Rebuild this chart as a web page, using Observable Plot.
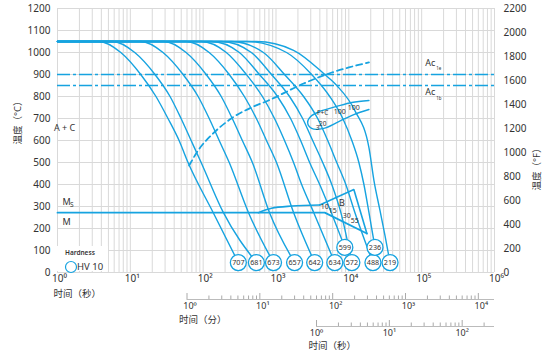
<!DOCTYPE html>
<html><head><meta charset="utf-8">
<script src="https://cdn.jsdelivr.net/npm/d3@7"></script>
<script src="https://cdn.jsdelivr.net/npm/@observablehq/plot@0.6"></script>
<style>
body{margin:0;background:#fff;}
#wrap{position:relative;width:554px;height:364px;font-family:'Noto Sans','Noto Sans CJK SC',sans-serif;}
#legend{position:absolute;left:55px;top:246px;width:53px;height:25px;background:#fff;}
#legend .lh{position:absolute;left:10px;top:2px;font-size:6.5px;font-weight:600;color:#333;}
#legend svg{position:absolute;left:9px;top:14px;}
#legend .hv{position:absolute;left:22px;top:14px;font-size:9.5px;color:#333;line-height:13px;}
</style></head><body><div id="wrap"></div>
<script>
const blue = "#16a3e0", grid = "#d9d9d9", ink = "#333";

// hardness circles (HV 10): time (s), temperature (°C)
const hardness    = [707, 681, 673, 657, 642, 634, 599, 572, 488, 236, 219];
const circleTimes = [304, 538, 924, 1799, 3396, 6412, 8810, 11000, 21430, 22850, 36800];
const circleTemps = [45, 45, 45, 45, 45, 45, 114, 45, 45, 114, 45];

// cooling curves [time s, °C]
const c707 = [[1,1050],[3.7,1050],[7.4,1000],[13.9,900],[22.5,800],[32.9,700],[46.7,600],[62,500],[137,273]];
const c681 = [[1,1050],[5.7,1050],[11.5,1000],[21.8,900],[35.1,800],[49.7,700],[68.3,600],[93.8,500],[189,273]];
const c673 = [[1,1050],[13.9,1050],[28.1,1000],[53,900],[85.3,800],[121,700],[166,600],[228,500],[418,273]];
const c657 = [[1,1050],[29,1050],[58.3,1000],[110,900],[177,800],[251,700],[345,600],[474,500],[813,273]];
const c642 = [[1,1050],[58.3,1050],[121,1000],[228,900],[368,800],[538,700],[740,600],[1016,500],[1742,273]];
const c634 = [[1,1050],[93.8,1050],[208,1000],[392,900],[651,800],[954,700],[1309,600],[1742,500],[2249,400],[3290,273]];
const c599 = [[1,1050],[129,1050],[314,1000],[592,900],[1049,800],[1585,700],[2178,600],[2897,500],[3981,400]];
const c572 = [[1,1050],[177,1050],[459,1000],[867,900],[1535,800],[2321,700],[3187,600],[4376,500],[5832,400],[7762,273]];
const c488 = [[1,1050],[243,1050],[672,1000],[1309,900],[2394,800],[3734,700],[5131,600],[6825,500],[9095,400],[12100,273]];
const c236 = [[1,1050],[392,1050],[1396,1000],[3088,900],[5470,800],[8262,700],[11000,600],[13740,500],[16110,400],[18880,273]];
const c219 = [[1,1050],[538,1050],[1742,1010],[4667,900],[6825,850],[12100,736],[18880,568],[22130,418],[26770,282],[31380,168]];
const curves = [c707, c681, c673, c657, c642, c634, c599, c572, c488, c236, c219];

// transformation lines
const ferriteStart = [[64.1,486],[85.3,555],[137,632],[243,700],[459,750],[788,782],[2394,859],[5832,909],[10000,932],[18880,955]];
const fcLoop = [[18880,782],[11000,773],[6825,755],[3981,732],[2992,709],[2718,682],[3088,655],[4519,655],[7278,686],[11720,718],[18880,741]];
const mLine = [[1,272],[4667,272],[17700,177]];
const bStart = [[574,272],[867,292],[1636,302],[3981,307]];
const bTop = [[3981,307],[11720,377],[17700,177]];
const acTemps = [900, 850];

// annotations
const annoText  = ["A + C", "B", "10", "15", "30", "55", "F+C", "3", "20", "100", "100"];
const annoTimes = [1.25, 8000, 4667, 6017, 9380, 12100, 4376, 3734, 4376, 7513, 11720];
const annoTemps = [655, 314, 300, 282, 259, 236, 724, 658, 676, 732, 747];
const annoSizes = [9, 9.5, 7, 7, 7, 7, 6.5, 6.5, 6.5, 7, 7];

// ticks
const yTicksC = [0,100,200,300,400,500,600,700,800,900,1000,1100,1200];
const yTicksF = [0,200,400,600,800,1000,1200,1400,1600,1800,2000,2200];
const xMajor = [1,10,100,1000,10000,100000,1000000];
const xLabels = ["10⁰","10¹","10²","10³","10⁴","10⁵","10⁶"];
const minMajor = [1,10,100,1000,10000];
const minLabels = ["10⁰","10¹","10²","10³","10⁴"];
const hourMajor = [1,10,100];
const hourLabels = ["10⁰","10¹","10²"];
const mults = [2,3,4,5,6,7,8,9];

const xGrid = xMajor.flatMap(d => d === 1e6 ? [d] : [d, ...mults.map(m => d*m)]);
const minMinor = minMajor.flatMap(d => mults.map(m => d*m)).filter(v => v*60 <= 1e6);
const hourMinor = hourMajor.flatMap(d => mults.map(m => d*m)).filter(v => v*3600 <= 1e6);

const curveRows = curves.flatMap((c, i) =>
  [...c, [circleTimes[i], circleTemps[i]]].map(([t, T]) => ({id: hardness[i], t, T})));
const circleRows = hardness.map((h, i) => ({h, t: circleTimes[i], T: circleTemps[i]}));
const annoRows = annoText.map((s, i) => ({s, t: annoTimes[i], T: annoTemps[i], z: annoSizes[i]}));
const P = d => ({t: d[0], T: d[1]});

const frameH = 264;
const plot = Plot.plot({
  width: 554, height: 364,
  marginLeft: 57, marginRight: 60, marginTop: 8, marginBottom: 92,
  x: {type: "log", domain: [1, 1e6], axis: null},
  y: {domain: [0, 1200], axis: null},
  style: {fontFamily: "'Noto Sans','Noto Sans CJK SC',sans-serif", background: "#fff"},
  marks: [
    Plot.ruleX(xGrid, {stroke: grid, strokeWidth: 1}),
    Plot.ruleY(yTicksC, {stroke: grid, strokeWidth: 1}),
    Plot.ruleY(acTemps, {stroke: blue, strokeWidth: 1.7, strokeDasharray: "13,3,3,3"}),
    Plot.line(curveRows, {x: "t", y: "T", z: "id", stroke: blue, strokeWidth: 1.4, curve: "monotone-x"}),
    Plot.line(ferriteStart.map(P), {x: "t", y: "T", stroke: blue, strokeWidth: 1.8, strokeDasharray: "6,4", curve: "monotone-x"}),
    Plot.line(fcLoop.map(P), {x: "t", y: "T", stroke: blue, strokeWidth: 1.4, curve: "catmull-rom"}),
    Plot.line(mLine.map(P), {x: "t", y: "T", stroke: blue, strokeWidth: 1.8}),
    Plot.line(bStart.map(P), {x: "t", y: "T", stroke: blue, strokeWidth: 1.6, curve: "monotone-x"}),
    Plot.line(bTop.map(P), {x: "t", y: "T", stroke: blue, strokeWidth: 1.6}),
    Plot.dot(circleRows, {x: "t", y: "T", r: 8, fill: "white", stroke: blue, strokeWidth: 1.3}),
    Plot.text(circleRows, {x: "t", y: "T", text: d => String(d.h), fontSize: 7.2, fill: ink}),
    Plot.text(annoRows, {x: "t", y: "T", text: "s", fontSize: d => d.z, fill: ink}),
    // Ms / M labels
    Plot.text(["M"], {x: () => 1, y: () => 318, dx: 5, textAnchor: "start", fontSize: 9, fill: ink}),
    Plot.text(["S"], {x: () => 1, y: () => 305, dx: 12.5, textAnchor: "start", fontSize: 6.5, fill: ink}),
    Plot.text(["M"], {x: () => 1, y: () => 227, dx: 5, textAnchor: "start", fontSize: 9, fill: ink}),
    // Ac labels
    Plot.text(["Ac"], {x: () => 111700, y: () => 950, textAnchor: "start", fontSize: 9, fill: ink}),
    Plot.text(["1e"], {x: () => 111700, y: () => 925, dx: 11, textAnchor: "start", fontSize: 4.5, fill: ink}),
    Plot.text(["Ac"], {x: () => 111700, y: () => 818, textAnchor: "start", fontSize: 9, fill: ink}),
    Plot.text(["1b"], {x: () => 111700, y: () => 792, dx: 11, textAnchor: "start", fontSize: 4.5, fill: ink}),
    // left / right y tick labels
    Plot.text(yTicksC, {y: d => d, frameAnchor: "left", textAnchor: "end", dx: -7, text: d => String(d), fontSize: 10, fill: ink}),
    Plot.text(yTicksF, {y: d => d * 1200 / 2200, frameAnchor: "right", textAnchor: "start", dx: 9, text: d => String(d), fontSize: 10, fill: ink}),
    Plot.text(["温度（°C）"], {frameAnchor: "left", rotate: -90, dx: -40, dy: 4, fontSize: 9.5, fill: ink}),
    Plot.text(["温度（°F）"], {frameAnchor: "right", rotate: -90, dx: 42, dy: 3, fontSize: 9.5, fill: ink}),
    // main time axis
    Plot.text(xMajor, {x: d => d, frameAnchor: "bottom", dy: 9, dx: 2, text: (d, i) => xLabels[i], fontSize: 10, fill: ink}),
    Plot.text(["时间（秒）"], {frameAnchor: "bottom-left", textAnchor: "start", dx: -4, dy: 24, fontSize: 9.5, fill: ink}),
    // minutes axis
    Plot.ruleY([0], {x1: 60, x2: 1e6, dy: 27, stroke: "#bbb"}),
    Plot.ruleX(minMajor.map(m => m * 60), {insetTop: frameH - 6, dy: 27, stroke: "#aaa"}),
    Plot.ruleX(minMinor.map(m => m * 60), {insetTop: frameH - 3.5, dy: 27, stroke: "#aaa"}),
    Plot.text(minMajor, {x: d => d * 60, frameAnchor: "bottom", dy: 36, dx: 3, text: (d, i) => minLabels[i], fontSize: 9, fill: ink}),
    Plot.text(["时间（分）"], {x: () => 60, frameAnchor: "bottom", textAnchor: "start", dx: -8, dy: 50, fontSize: 9.5, fill: ink}),
    // hours axis
    Plot.ruleY([0], {x1: 3600, x2: 1e6, dy: 54, stroke: "#bbb"}),
    Plot.ruleX(hourMajor.map(h => h * 3600), {insetTop: frameH - 6, dy: 54, stroke: "#aaa"}),
    Plot.ruleX(hourMinor.map(h => h * 3600), {insetTop: frameH - 3.5, dy: 54, stroke: "#aaa"}),
    Plot.text(hourMajor, {x: d => d * 3600, frameAnchor: "bottom", dy: 63, dx: 0, text: (d, i) => hourLabels[i], fontSize: 9, fill: ink}),
    Plot.text(["时间（秒）"], {x: () => 3600, frameAnchor: "bottom", textAnchor: "start", dx: -8, dy: 76, fontSize: 9.5, fill: ink})
  ]
});
const wrap = document.getElementById("wrap");
wrap.appendChild(plot);
const lg = document.createElement("div");
lg.id = "legend";
lg.innerHTML = '<div class="lh">Hardness</div><svg width="14" height="14"><circle cx="7" cy="7" r="5.5" fill="none" stroke="' + blue + '" stroke-width="1.2"/></svg><span class="hv">HV 10</span>';
wrap.appendChild(lg);
</script></body></html>
